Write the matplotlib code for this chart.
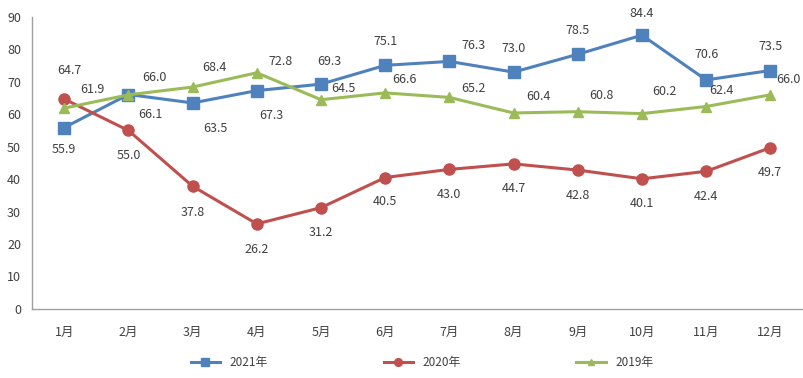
import matplotlib.pyplot as plt
import numpy as np

plt.rcParams['font.family'] = ['Noto Sans CJK SC', 'DejaVu Sans']

months = ['1月', '2月', '3月', '4月', '5月', '6月', '7月', '8月', '9月', '10月', '11月', '12月']
y2021 = [55.9, 66.1, 63.5, 67.3, 69.3, 75.1, 76.3, 73.0, 78.5, 84.4, 70.6, 73.5]
y2020 = [64.7, 55.0, 37.8, 26.2, 31.2, 40.5, 43.0, 44.7, 42.8, 40.1, 42.4, 49.7]
y2019 = [61.9, 66.0, 68.4, 72.8, 64.5, 66.6, 65.2, 60.4, 60.8, 60.2, 62.4, 66.0]

# label offsets in pixels (dx, dy), up is positive
off2021 = [(0, -22), (22, -20), (23, -26), (15, -25), (8, 23), (0, 24),
           (24, 16), (0, 24), (0, 24), (0, 22), (0, 25), (0, 24)]
off2020 = [(5, 29), (0, -25), (0, -26), (0, -26), (0, -25), (0, -24),
           (0, -25), (0, -25), (0, -25), (0, -25), (0, -25), (0, -25)]
off2019 = [(28, 19), (26, 17), (22, 20), (24, 11), (22, 11), (19, 13),
           (24, 9), (25, 16), (24, 16), (23, 22), (15, 16), (18, 15)]

c21 = '#4F81BD'
c20 = '#C0504D'
c19 = '#9BBB59'
tc = '#404040'

fig = plt.figure(figsize=(8.04, 3.78), dpi=100)
ax = fig.add_axes([0.040, 0.183, 0.958, 0.772])
x = np.arange(len(months))

ax.plot(x, y2021, color=c21, lw=2.2, marker='s', ms=8, label='2021年')
ax.plot(x, y2020, color=c20, lw=2.2, marker='o', ms=8, label='2020年')
ax.plot(x, y2019, color=c19, lw=2.2, marker='^', ms=7, label='2019年')

for vals, offs in [(y2021, off2021), (y2020, off2020), (y2019, off2019)]:
    for i, v in enumerate(vals):
        ax.annotate(f'{v:.1f}', (i, v), xytext=offs[i], textcoords='offset pixels',
                    ha='center', va='center', fontsize=9, color=tc)

ax.set_xlim(-0.5, 11.5)
ax.set_ylim(0, 90)
ax.set_yticks(range(0, 91, 10))
ax.set_xticks(x)
ax.set_xticklabels(months)
ax.tick_params(axis='both', length=0, labelsize=9, colors=tc)
ax.tick_params(axis='x', pad=12)
ax.tick_params(axis='y', pad=8)
for s in ['top', 'right']:
    ax.spines[s].set_visible(False)
for s in ['left', 'bottom']:
    ax.spines[s].set_color('#A0A0A0')
    ax.spines[s].set_linewidth(1.0)

fig.legend(loc='center', bbox_to_anchor=(0.525, 0.04), ncol=3, frameon=False,
           fontsize=8.5, handlelength=2.5, columnspacing=9.8, markerscale=0.7,
           labelcolor=tc)

plt.savefig('out.png', dpi=100)
